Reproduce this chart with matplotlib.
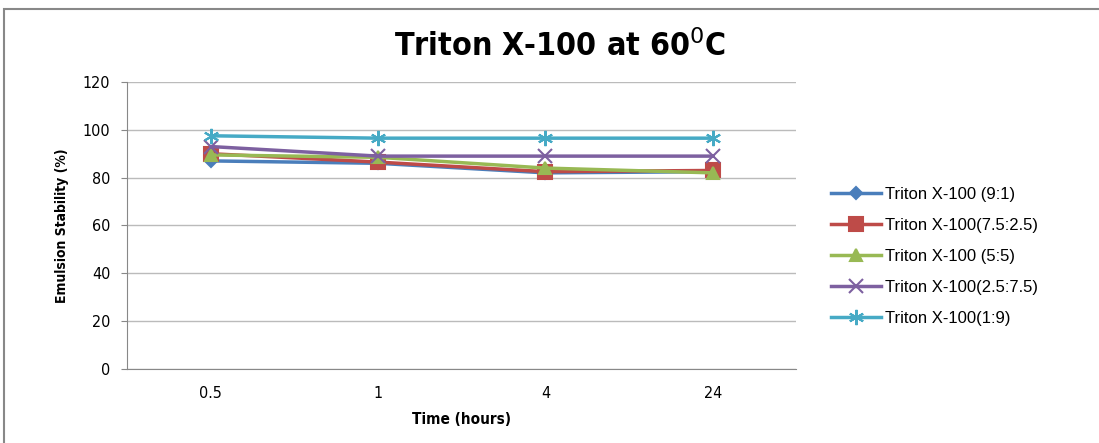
import matplotlib
matplotlib.use('Agg')
import matplotlib.pyplot as plt
from matplotlib.patches import Rectangle

# данные
times = ['0.5', '1', '4', '24']
s_91 = [87, 86, 82, 82.5]
s_7525 = [90, 86.5, 82.5, 83]
s_55 = [89.5, 88.5, 84, 82]
s_2575 = [93, 89, 89, 89]
s_19 = [97.5, 96.5, 96.5, 96.5]

labels = ['Triton X-100 (9:1)', 'Triton X-100(7.5:2.5)', 'Triton X-100 (5:5)',
          'Triton X-100(2.5:7.5)', 'Triton X-100(1:9)']
colors = ['#4A7EBB', '#BE4B48', '#98B954', '#7D60A0', '#46AAC5']
markers = ['D', 's', '^', 'x', (6, 2, 0)]
msizes = [6, 10, 9, 10, 11]

cond = dict(family='DejaVu Sans', fontstretch='condensed')

fig = plt.figure(figsize=(10.99, 4.43), dpi=100)
ax = fig.add_axes([0.1156, 0.167, 0.609, 0.648])

x = list(range(len(times)))
for vals, lab, c, m, ms in zip([s_91, s_7525, s_55, s_2575, s_19], labels, colors, markers, msizes):
    ax.plot(x, vals, color=c, marker=m, markersize=ms, linewidth=2.5,
            markeredgewidth=1.5, label=lab)

ax.set_xlim(-0.5, 3.5)
ax.set_ylim(0, 120)
ax.set_yticks(range(0, 121, 20))
ax.set_xticks(x)
ax.set_xticklabels(times, fontsize=11.5, **cond)
for t in ax.get_yticklabels():
    t.set_fontsize(11.5)
    t.set_fontstretch('condensed')
ax.tick_params(axis='x', length=0, pad=12)
ax.tick_params(axis='y', length=4, color='#888888', pad=8)
ax.grid(axis='y', color='#BBBBBB', linewidth=1)
ax.set_axisbelow(True)
for side in ['top', 'right']:
    ax.spines[side].set_visible(False)
ax.spines['left'].set_color('#888888')
ax.spines['bottom'].set_color('#888888')

ax.set_xlabel('Time (hours)', fontsize=11, fontweight='bold', labelpad=8, **cond)
ax.set_ylabel('Emulsion Stability (%)', fontsize=10, fontweight='bold', labelpad=10, **cond)
fig.text(0.51, 0.895, 'Triton X-100 at 60$^{0}$C', ha='center', va='center',
         fontsize=23, fontweight='bold', **cond)

ax.legend(loc='center left', bbox_to_anchor=(1.03, 0.392), frameon=False,
          handlelength=3.0, labelspacing=0.95, handletextpad=0.2,
          prop={'family': 'Liberation Sans', 'size': 12})

fig.patches.append(Rectangle((0.004, -0.01), 1.0, 0.99, transform=fig.transFigure,
                             fill=False, edgecolor='#888888', linewidth=1.5))

plt.savefig('out.png', dpi=100)
